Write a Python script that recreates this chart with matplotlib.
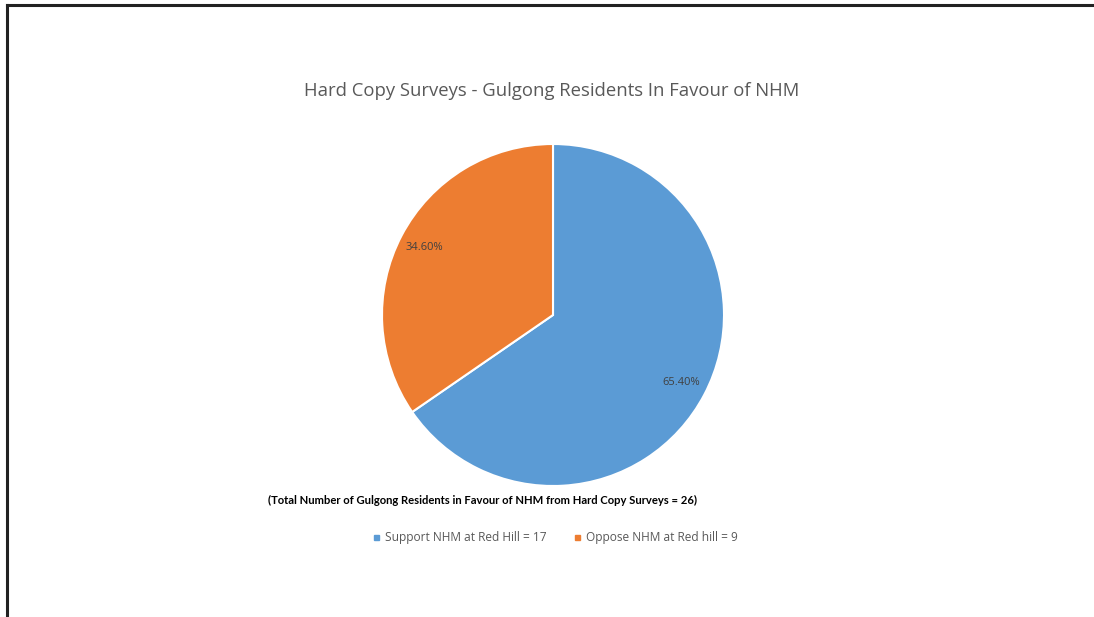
import matplotlib
matplotlib.use("Agg")
import matplotlib.pyplot as plt
from matplotlib.lines import Line2D
from matplotlib.patches import Rectangle
import numpy as np

# Survey results
categories = ["Support NHM at Red Hill", "Oppose NHM at Red hill"]
counts = [17, 9]
percentages = [65.40, 34.60]
colors = ["#5B9BD5", "#ED7D31"]
title = "Hard Copy Surveys - Gulgong Residents In Favour of NHM"
note = "(Total Number of Gulgong Residents in Favour of NHM from Hard Copy Surveys = 26)"

W, H = 1094, 617
fig = plt.figure(figsize=(W / 100, H / 100), dpi=100)
fig.patch.set_facecolor("white")

# Frame lines along the top and left edge
fig.add_artist(Line2D([6.5 / W, 1.0], [1 - 5 / H, 1 - 5 / H], color="#222222", lw=2.2))
fig.add_artist(Line2D([7 / W, 7 / W], [0, 1 - 5 / H], color="#222222", lw=2.2))

# Pie area: center (553, 315), radius ~171 px
cx, cy, r = 553, 315, 171
ax = fig.add_axes([(cx - r) / W, 1 - (cy + r) / H, 2 * r / W, 2 * r / H])
wedges, _ = ax.pie(percentages, colors=colors, startangle=90, counterclock=False,
                   wedgeprops=dict(edgecolor="white", linewidth=1.5))
ax.set_xlim(-1, 1)
ax.set_ylim(-1, 1)
ax.set_aspect("auto")
ax.axis("off")

for w, pct in zip(wedges, percentages):
    ang = np.deg2rad((w.theta1 + w.theta2) / 2)
    ax.text(0.85 * np.cos(ang), 0.85 * np.sin(ang), f"{pct:.2f}%", ha="center", va="center",
            fontsize=8, color="#404040", family="Open Sans")

fig.text(552 / W, 1 - 91 / H, title, ha="center", va="center", fontsize=13.3,
         color="#595959", family="Open Sans")

renderer = fig.canvas.get_renderer()


def fit_text(x0, y, s, width_px, size, **kw):
    t = fig.text(x0 / W, y, s, ha="left", va="center", fontsize=size, **kw)
    w = t.get_window_extent(renderer).width
    t.set_fontsize(size * width_px / w)
    return t


fit_text(268, 1 - 500 / H, note, 432, 8, color="black", family="Lato", fontweight="bold")

# Legend entries
leg_y = 1 - 537 / H
items = [(376, categories[0], counts[0], colors[0], 161),
         (577, categories[1], counts[1], colors[1], 152)]
for x, cat, n, col, wpx in items:
    fig.add_artist(Rectangle((x / W - 2.5 / W, leg_y - 2.5 / H), 5 / W, 5 / H,
                             color=col, transform=fig.transFigure))
    fit_text(x + 9, leg_y, f"{cat} = {n}", wpx, 8.4, color="#595959", family="Open Sans")

fig.savefig("out.png", dpi=100, facecolor="white")
